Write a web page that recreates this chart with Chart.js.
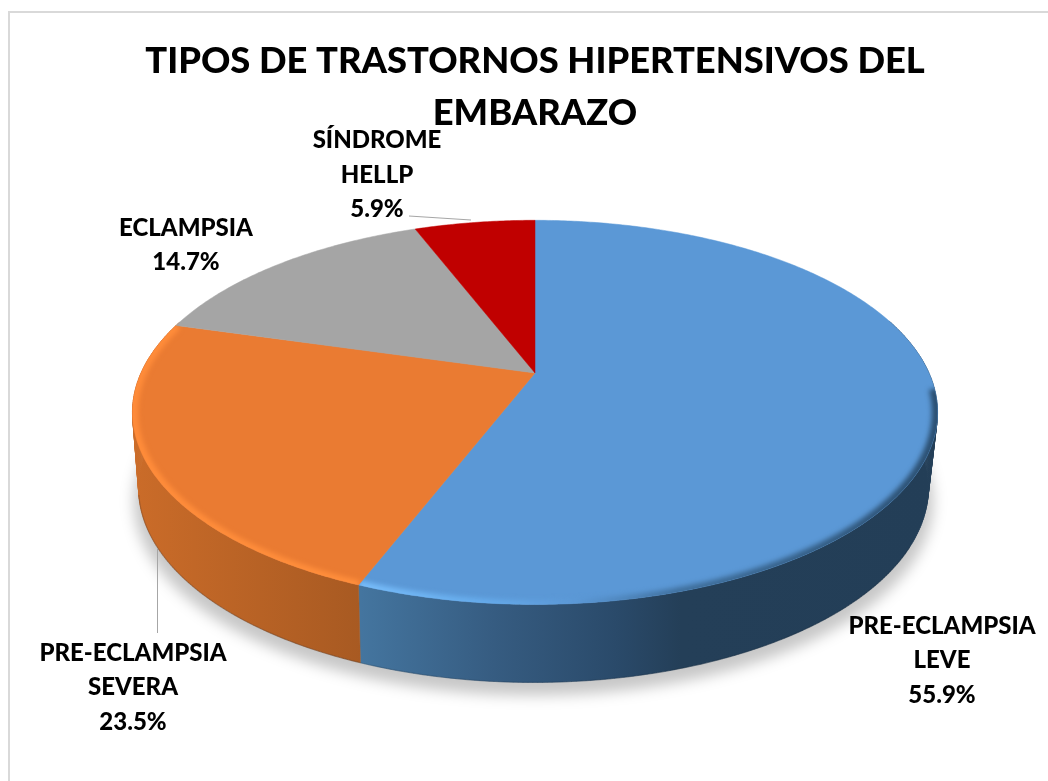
<!DOCTYPE html>
<html><head><meta charset="utf-8">
<style>html,body{margin:0;padding:0;background:#fff}#w{width:1048px;height:781px;position:relative}</style>
<script src="https://cdn.jsdelivr.net/npm/chart.js@4"></script>
</head><body><div id="w"><canvas id="c" width="1048" height="781"></canvas></div>
<script>
const titleLines = ['TIPOS DE TRASTORNOS HIPERTENSIVOS DEL', 'EMBARAZO'];
const categories = ['PRE-ECLAMPSIA LEVE', 'PRE-ECLAMPSIA SEVERA', 'ECLAMPSIA', 'SÍNDROME HELLP'];
const percentages = [55.9, 23.5, 14.7, 5.9];
const labelLines = [['PRE-ECLAMPSIA', 'LEVE', '55.9%'], ['PRE-ECLAMPSIA', 'SEVERA', '23.5%'], ['ECLAMPSIA', '14.7%'], ['SÍNDROME', 'HELLP', '5.9%']];
const topColors = ['#5B98D6', '#EA7B32', '#A5A5A5', '#C00000'];

// projective view of the disc
const G = {cx: 535, cy: 373, a: 184, b: 394, k: 0.205, depth: 72, grow: 6, shrink: 0.981};
const proj = ang => { // ang: chart.js arc angle (0 = +x, clockwise)
  const u = Math.cos(ang), v = Math.sin(ang), w = 1 - G.k * v;
  return {x: G.cx + G.b * u / w, y: G.cy + G.a * v / w, v};
};
const low = p => ({x: G.cx - 1.5 + (p.x - G.cx) * G.shrink, y: p.y + G.depth + G.grow * (p.v + 1) / 2});
function samples(s, e) {
  const n = Math.max(2, Math.ceil((e - s) / 0.01)), out = [];
  for (let i = 0; i <= n; i++) out.push(s + (e - s) * i / n);
  return out;
}
function trace(ctx, pts, move = true) {
  pts.forEach((p, i) => (i === 0 && move) ? ctx.moveTo(p.x, p.y) : ctx.lineTo(p.x, p.y));
}
function sidePaint(ctx, i) {
  const g = ctx.createLinearGradient(130, 0, 940, 0);
  if (i === 0) {
    g.addColorStop(0.285, '#44759F'); g.addColorStop(0.45, '#365C81');
    g.addColorStop(0.6, '#2A4A6A'); g.addColorStop(0.68, '#243F58'); g.addColorStop(1, '#233E57');
  } else {
    g.addColorStop(0, '#CB6C29'); g.addColorStop(0.285, '#A85A22');
  }
  return g;
}
const pie3d = {
  id: 'pie3d',
  beforeDraw(chart) {
    const c = chart.ctx;
    c.save(); c.fillStyle = '#fff'; c.fillRect(0, 0, chart.width, chart.height);
    c.strokeStyle = '#D9D9D9'; c.lineWidth = 2; c.strokeRect(9, 12, 1100, 900); c.restore();
  },
  beforeDatasetsDraw(chart) {
    const c = chart.ctx, arcs = chart.getDatasetMeta(0).data;
    const all = samples(-Math.PI, Math.PI).map(proj);
    // ground shadow
    c.save(); c.filter = 'blur(7px)'; c.fillStyle = 'rgba(0,0,0,0.22)'; c.beginPath();
    trace(c, all.map(low).map(p => ({x: G.cx + (p.x - G.cx) * 1.012, y: p.y + 13}))); c.closePath(); c.fill(); c.restore();
    // outer wall of each visible slice, swept as a strip of quads
    arcs.forEach((a, i) => {
      const pts = samples(a.startAngle, a.endAngle).map(proj).filter(p => p.v > -0.3);
      const paint = sidePaint(c, i);
      c.beginPath();
      for (let j = 0; j + 1 < pts.length; j++) {
        const l0 = low(pts[j]), l1 = low(pts[j + 1]);
        c.moveTo(pts[j].x, pts[j].y); c.lineTo(pts[j + 1].x, pts[j + 1].y);
        c.lineTo(l1.x, l1.y); c.lineTo(l0.x, l0.y); c.closePath();
      }
      c.fillStyle = paint; c.fill();
      c.strokeStyle = paint; c.lineWidth = 0.5; c.stroke();
    });
    // darker foot of the wall
    c.save(); c.beginPath();
    trace(c, samples(0.5, 2.9).map(proj).map(low));
    c.strokeStyle = 'rgba(15,30,45,0.2)'; c.lineWidth = 1.2; c.stroke(); c.restore();
    // top faces
    arcs.forEach((a, i) => {
      const path = new Path2D();
      path.moveTo(G.cx, G.cy);
      samples(a.startAngle, a.endAngle).map(proj).forEach(p => path.lineTo(p.x, p.y));
      path.closePath();
      c.fillStyle = topColors[i]; c.fill(path);
      c.strokeStyle = topColors[i]; c.lineWidth = 0.5; c.stroke(path);
      // bevel along the rim
      if (i < 2) {
        c.save(); c.clip(path); c.filter = 'blur(2.5px)';
        const g = c.createLinearGradient(130, 0, 940, 0);
        if (i === 0) {
          g.addColorStop(0.285, '#78BDFA'); g.addColorStop(0.43, '#66ACEC');
          g.addColorStop(0.55, '#5B98D6'); g.addColorStop(0.68, '#3F6F9C'); g.addColorStop(1, '#2A4D6E');
        } else {
          g.addColorStop(0, '#FF8C3A'); g.addColorStop(1, '#FF943F');
        }
        c.strokeStyle = g; c.lineWidth = 9; c.beginPath();
        const rim = samples(a.startAngle, a.endAngle).map(proj)
          .filter(p => i === 0 ? p.v > 0.08 : p.v > -0.45)
          .map(p => ({x: G.cx + (p.x - G.cx) * 0.997, y: p.y}));
        trace(c, rim);
        c.stroke(); c.restore();
      }
    });
    return false;
  },
  afterDraw(chart) {
    const c = chart.ctx;
    c.save();
    c.strokeStyle = '#A6A6A6'; c.lineWidth = 1;
    c.beginPath(); c.moveTo(409, 216); c.lineTo(471, 220); c.moveTo(157.5, 549); c.lineTo(157.5, 633); c.stroke();
    c.fillStyle = '#000'; c.font = '900 24px Lato'; c.textAlign = 'center'; c.textBaseline = 'alphabetic';
    const places = [[942, [634, 668, 703]], [133, [661, 695, 730]], [186, [236, 270]], [377, [148, 183, 217]]];
    labelLines.forEach((ls, i) => ls.forEach((t, j) => c.fillText(t, places[i][0], places[i][1][j])));
    c.restore();
  }
};
new Chart(document.getElementById('c'), {
  type: 'pie',
  data: {labels: categories, datasets: [{data: percentages, backgroundColor: topColors, borderWidth: 0}]},
  options: {
    responsive: false, animation: false,
    layout: {padding: {left: 22, top: 0}},
    plugins: {
      legend: {display: false}, tooltip: {enabled: false},
      title: {display: true, text: titleLines, color: '#000', padding: {top: 35, bottom: 0},
        font: {family: 'Lato', weight: '900', size: 36.3, lineHeight: 1.44}}
    }
  },
  plugins: [pie3d]
});
</script></body></html>
